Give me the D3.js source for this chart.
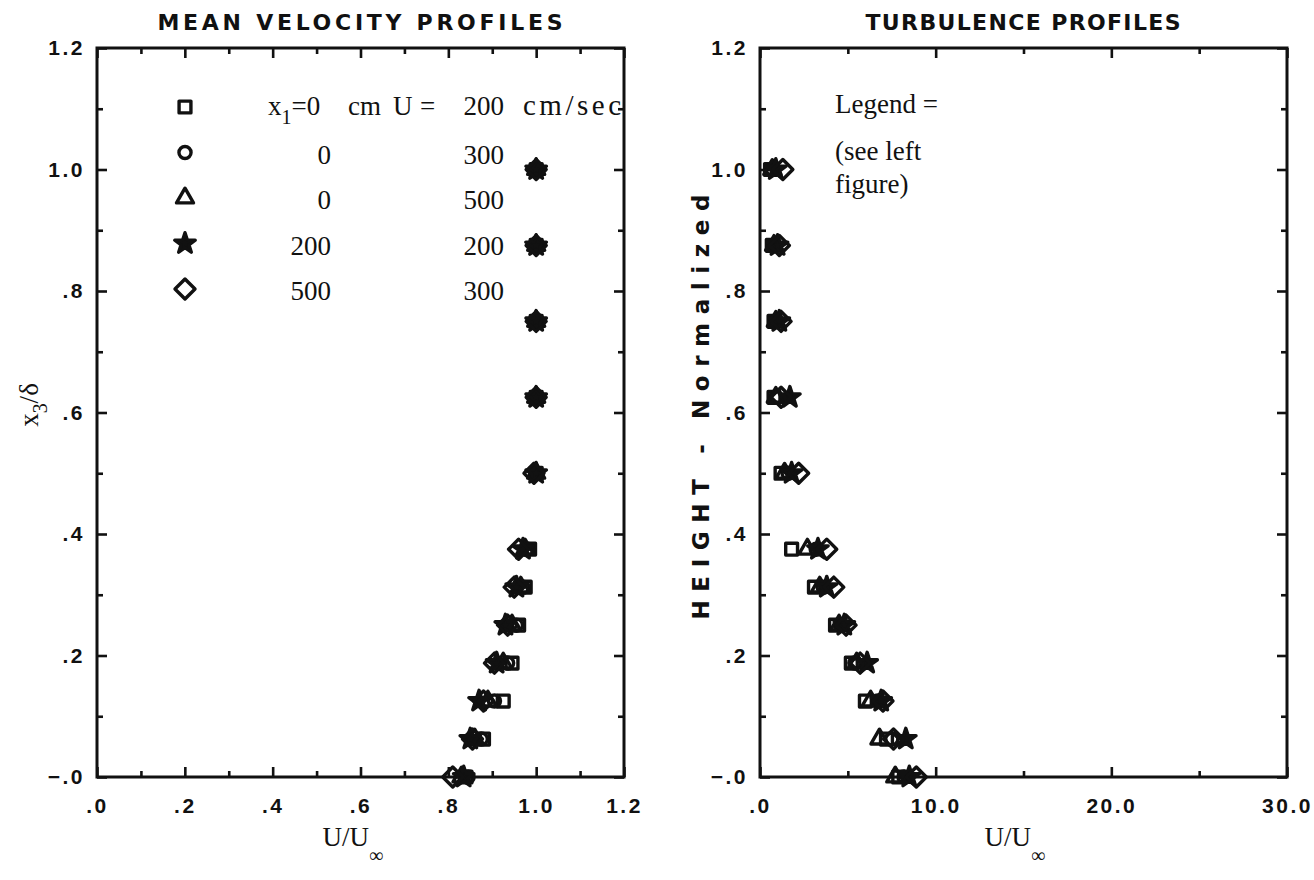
<!DOCTYPE html>
<html>
<head>
<meta charset="utf-8">
<script src="https://cdnjs.cloudflare.com/ajax/libs/d3/7.8.5/d3.min.js"></script>
<style>
body { margin:0; background:#fff; }
svg { display:block; }
.tick text { font-family:"Liberation Sans", Arial, sans-serif; font-weight:bold; font-size:21px; letter-spacing:2.5px; fill:#111; }
.tick line { stroke:#111; stroke-width:2.6; }
.ser { font-family:"Liberation Serif", "Times New Roman", serif; fill:#111; }
.plot { font-family:"DejaVu Sans", sans-serif; font-weight:bold; fill:#111; }
</style>
</head>
<body>
<svg id="chart" width="1314" height="880"></svg>
<script>
// 高さ (x3/δ)
var heights = [0, 0.0625, 0.125, 0.1875, 0.25, 0.3125, 0.375, 0.5, 0.625, 0.75, 0.875, 1.0];

// 系列: x1 (cm), U (cm/sec)
var seriesX1 = [0, 0, 0, 200, 500];
var seriesU  = [200, 300, 500, 200, 300];
var seriesShape = ["square", "circle", "triangle", "star", "diamond"];

// 平均速度 U/U∞
var meanSquare   = [0.84, 0.88, 0.925, 0.945, 0.96, 0.975, 0.985, 1.0, 1.0, 1.0, 1.0, 1.0];
var meanCircle   = [0.845, 0.875, 0.905, 0.935, 0.955, 0.97, 0.98, 1.0, 1.0, 1.0, 1.0, 1.0];
var meanTriangle = [0.83, 0.86, 0.89, 0.925, 0.945, 0.965, 0.975, 1.0, 1.0, 1.0, 1.0, 1.0];
var meanStar     = [0.835, 0.85, 0.87, 0.91, 0.93, 0.955, 0.97, 1.0, 1.0, 1.0, 1.0, 1.0];
var meanDiamond  = [0.81, 0.855, 0.88, 0.905, 0.935, 0.95, 0.96, 0.995, 1.0, 1.0, 1.0, 1.0];

// 乱れ強度
var turbSquare   = [7.9, 7.2, 6.0, 5.2, 4.3, 3.1, 1.8, 1.2, 0.8, 0.8, 0.7, 0.6];
var turbCircle   = [8.2, 7.5, 6.7, 5.4, 4.6, 3.6, 3.2, 1.6, 0.9, 0.9, 0.8, 0.7];
var turbTriangle = [7.7, 6.8, 6.3, 5.5, 4.5, 3.4, 2.7, 1.4, 0.9, 0.9, 0.8, 0.7];
var turbStar     = [8.5, 8.3, 6.9, 6.1, 4.8, 3.8, 3.3, 1.8, 1.7, 1.1, 1.0, 0.9];
var turbDiamond  = [8.9, 7.6, 7.0, 5.7, 4.9, 4.2, 3.8, 2.2, 1.2, 1.2, 1.1, 1.3];

// 目盛り
var yMajor = [0, 0.2, 0.4, 0.6, 0.8, 1.0, 1.2];
var yMinor = [0.1, 0.3, 0.5, 0.7, 0.9, 1.1];
var yLabels = ["\u2212.0", ".2", ".4", ".6", ".8", "1.0", "1.2"];
var lxMajor = [0, 0.2, 0.4, 0.6, 0.8, 1.0, 1.2];
var lxMinor = [0.1, 0.3, 0.5, 0.7, 0.9, 1.1];
var lxLabels = [".0", ".2", ".4", ".6", ".8", "1.0", "1.2"];
var rxMajor = [0, 10, 20, 30];
var rxMinor = [5, 15, 25];
var rxLabels = [".0", "10.0", "20.0", "30.0"];

var meanSeries = [meanSquare, meanCircle, meanTriangle, meanStar, meanDiamond];
var turbSeries = [turbSquare, turbCircle, turbTriangle, turbStar, turbDiamond];

var svg = d3.select("#chart");

var top_ = 48, bottom_ = 777;
var y = d3.scaleLinear().domain([0, 1.2]).range([bottom_, top_]);
var xL = d3.scaleLinear().domain([0, 1.2]).range([97, 624]);
var xR = d3.scaleLinear().domain([0, 30]).range([760, 1287]);

function symbolPath(shape) {
    switch (shape) {
        case "square":   return d3.symbol().type(d3.symbolSquare).size(140)();
        case "circle":   return d3.symbol().type(d3.symbolCircle).size(115)();
        case "triangle": return d3.symbol().type(d3.symbolTriangle).size(125)();
        case "star":     return d3.symbol().type(d3.symbolStar).size(130)();
        case "diamond":  return d3.symbol().type(d3.symbolSquare).size(200)();
    }
}
function drawMarker(g, shape, cx, cy) {
    g.append("path")
        .attr("d", symbolPath(shape))
        .attr("transform", "translate(" + [cx, cy] + ")" + (shape == "diamond" ? " rotate(45)" : ""))
        .attr("fill", shape == "star" ? "#111" : "none")
        .attr("stroke", "#111")
        .attr("stroke-width", 3.4)
        .attr("stroke-linejoin", "round");
}

function panel(x, xMajor, xMinor, xLabels) {
    var g = svg.append("g");
    var x0 = x.range()[0], x1 = x.range()[1];
    // 下
    g.append("g").attr("transform", "translate(0," + bottom_ + ")")
        .call(d3.axisBottom(x).tickValues(xMajor).tickSize(-10).tickPadding(21)
            .tickFormat(function(d, i) { return xLabels[i]; }));
    g.append("g").attr("transform", "translate(0," + bottom_ + ")")
        .call(d3.axisBottom(x).tickValues(xMinor).tickSize(-6).tickFormat(""));
    // 上
    g.append("g").attr("transform", "translate(0," + top_ + ")")
        .call(d3.axisTop(x).tickValues(xMajor).tickSize(-10).tickFormat(""));
    g.append("g").attr("transform", "translate(0," + top_ + ")")
        .call(d3.axisTop(x).tickValues(xMinor).tickSize(-6).tickFormat(""));
    // 左
    g.append("g").attr("transform", "translate(" + x0 + ",0)")
        .call(d3.axisLeft(y).tickValues(yMajor).tickSize(-10).tickPadding(12)
            .tickFormat(function(d, i) { return yLabels[i]; }));
    g.append("g").attr("transform", "translate(" + x0 + ",0)")
        .call(d3.axisLeft(y).tickValues(yMinor).tickSize(-6).tickFormat(""));
    // 右
    g.append("g").attr("transform", "translate(" + x1 + ",0)")
        .call(d3.axisRight(y).tickValues(yMajor).tickSize(-10).tickFormat(""));
    g.append("g").attr("transform", "translate(" + x1 + ",0)")
        .call(d3.axisRight(y).tickValues(yMinor).tickSize(-6).tickFormat(""));
    g.selectAll(".domain").remove();
    g.selectAll(".tick text").attr("fill", "#111");
    g.append("rect")
        .attr("x", x0).attr("y", top_)
        .attr("width", x1 - x0).attr("height", bottom_ - top_)
        .attr("fill", "none").attr("stroke", "#111").attr("stroke-width", 3);
    return g;
}

var gl = panel(xL, lxMajor, lxMinor, lxLabels);
var gr = panel(xR, rxMajor, rxMinor, rxLabels);

// データ点
var pts = svg.append("g");
seriesShape.forEach(function(s, k) {
    heights.forEach(function(h, i) {
        drawMarker(pts, s, xL(meanSeries[k][i]), y(h));
        drawMarker(pts, s, xR(turbSeries[k][i]), y(h));
    });
});

// タイトル
svg.append("text").attr("class", "plot").attr("x", 360).attr("y", 30)
    .attr("text-anchor", "middle").style("font-size", "22px")
    .attr("textLength", 405).attr("lengthAdjust", "spacing")
    .text("MEAN VELOCITY PROFILES");
svg.append("text").attr("class", "plot").attr("x", 1023).attr("y", 30)
    .attr("text-anchor", "middle").style("font-size", "22px")
    .attr("textLength", 315).attr("lengthAdjust", "spacing")
    .text("TURBULENCE PROFILES");

// 凡例 (左)
var leg = svg.append("g");
seriesShape.forEach(function(s, i) {
    var ly = 107 + i * 45.5;
    drawMarker(leg, s, 185, ly);
    if (i > 0) {
        leg.append("text").attr("class", "ser").style("font-size", "27px")
            .attr("x", 331).attr("y", ly + 11).attr("text-anchor", "end").text(seriesX1[i]);
        leg.append("text").attr("class", "ser").style("font-size", "27px")
            .attr("x", 504).attr("y", ly + 11).attr("text-anchor", "end").text(seriesU[i]);
    }
});
var hdr = leg.append("text").attr("class", "ser").style("font-size", "27px").attr("y", 115);
hdr.append("tspan").attr("x", 268).text("x");
hdr.append("tspan").attr("dy", 9).style("font-size", "20px").text("1");
hdr.append("tspan").attr("dy", -9).text("=" + seriesX1[0]);
leg.append("text").attr("class", "ser").style("font-size", "27px").attr("x", 348).attr("y", 115).text("cm");
leg.append("text").attr("class", "ser").style("font-size", "27px").attr("x", 393).attr("y", 115).text("U");
leg.append("text").attr("class", "ser").style("font-size", "27px").attr("x", 420).attr("y", 115).text("=");
leg.append("text").attr("class", "ser").style("font-size", "27px").attr("x", 504).attr("y", 115)
    .attr("text-anchor", "end").text(seriesU[0]);
leg.append("text").attr("class", "ser").style("font-size", "29px").attr("x", 523).attr("y", 115)
    .style("letter-spacing", "3.5px").text("cm/sec");

// 凡例 (右)
[["Legend =", 113], ["(see left", 160], ["figure)", 193]].forEach(function(t) {
    svg.append("text").attr("class", "ser").style("font-size", "27px")
        .attr("x", 835).attr("y", t[1]).text(t[0]);
});

// 軸ラベル
var yl = svg.append("text").attr("class", "ser").style("font-size", "27px")
    .attr("text-anchor", "middle")
    .attr("transform", "translate(38,405) rotate(-90)");
yl.append("tspan").text("x");
yl.append("tspan").attr("dy", 9).style("font-size", "20px").text("3");
yl.append("tspan").attr("dy", -9).text("/\u03b4");

svg.append("text").attr("class", "plot").style("font-size", "23px")
    .attr("text-anchor", "middle")
    .attr("transform", "translate(709,407) rotate(-90)")
    .attr("textLength", 425).attr("lengthAdjust", "spacing")
    .text("HEIGHT - Normalized");

[[361, "U/U"], [1023, "U/U"]].forEach(function(t) {
    var xt = svg.append("text").attr("class", "ser").style("font-size", "27px")
        .attr("x", t[0] - 8).attr("y", 846).attr("text-anchor", "middle");
    xt.append("tspan").text(t[1]);
    xt.append("tspan").attr("dy", 16).style("font-size", "20px").text("\u221e");
});
</script>
</body>
</html>
